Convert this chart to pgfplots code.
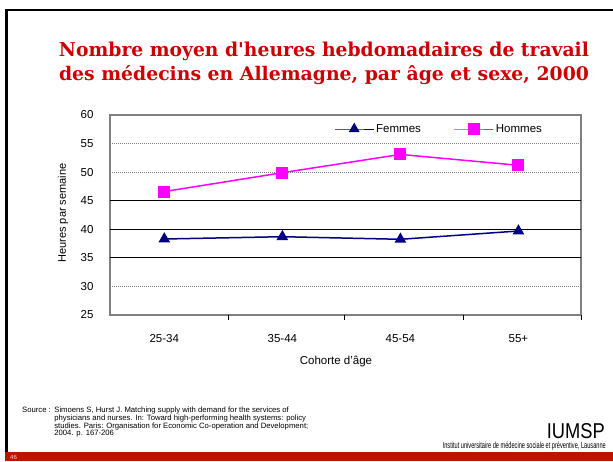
\documentclass[border=0pt]{standalone}
\usepackage{pgfplots}
\pgfplotsset{compat=1.18}
\usepackage{fontspec}
\setmainfont{Liberation Sans}
\newfontfamily\titlefont{DejaVu Serif}
\definecolor{navyF}{RGB}{0,0,128}
\definecolor{magH}{RGB}{255,0,255}
\definecolor{titlered}{RGB}{204,0,0}
\definecolor{barred}{RGB}{192,18,0}
\definecolor{framegray}{RGB}{128,128,128}
\begin{document}
\begin{tikzpicture}[x=1pt,y=1pt]
\useasboundingbox (0,0) rectangle (613,461);
\fill[white] (0,0) rectangle (613,461);
% slide frame
\fill[black] (5,9) rectangle (7.5,452);
\fill[black] (5,449.5) rectangle (613,452);
\fill[barred] (5,0) rectangle (613,9);
\node[anchor=west, text=red!15!white, inner sep=0] at (10,3.5) {\fontsize{6}{6}\selectfont 46};
% title
\node[anchor=base, inner sep=0, text=titlered] at (324,404) {\resizebox{530pt}{14.5pt}{\titlefont\bfseries Nombre moyen d'heures hebdomadaires de travail}};
\node[anchor=base, inner sep=0, text=titlered] at (324,380) {\resizebox{530pt}{15pt}{\titlefont\bfseries des médecins en Allemagne, par âge et sexe, 2000}};
% chart
\begin{axis}[
  at={(110pt,146pt)}, anchor=south west,
  width=471pt, height=200pt, scale only axis,
  xmin=-0.46, xmax=3.53, ymin=25, ymax=60,
  ytick={25,30,...,60},
  xtick={0,1,2,3}, xticklabels={25-34,35-44,45-54,55+},
  /pgf/number format/assume math mode=true,
  major tick length=0pt,
  tick pos=bottom,
  extra x ticks={0.54,1.53,2.53,3.53},
  extra x tick labels={},
  extra x tick style={major tick length=5pt, tick align=outside, major tick style={black, line width=0.9pt}},
  extra y ticks={35,40,45},
  extra y tick labels={},
  extra y tick style={grid=major, major grid style={black, solid, line width=0.9pt}},
  ymajorgrids,
  major grid style={framegray, line width=0.8pt, dash pattern=on 1pt off 1pt},
  axis line style={framegray, line width=1.2pt},
  tick label style={font=\fontsize{11.5}{12}\selectfont},
  yticklabel style={xshift=-13pt},
  xticklabel style={yshift=-16pt},
  legend style={at={(0.4756,0.93)}, anchor=west, draw=none, fill=none, inner sep=0pt,
    font=\fontsize{11.5}{12}\selectfont,
    /tikz/every even column/.append style={column sep=31pt}},
  legend columns=2,
  legend cell align=left,
  legend image code/.code={\draw[mark repeat=2,mark phase=2,#1,line width=1pt] plot coordinates {(0pt,0pt)(19.5pt,0pt)(39pt,0pt)};},
]
\addplot[navyF, line width=1.5pt, mark=triangle*, mark size=5.3pt, mark options={solid, fill=navyF}]
  coordinates {(0,38.3) (1,38.7) (2,38.25) (3,39.7)};
\addlegendentry{Femmes}
\addplot[magH, line width=1.5pt, mark=square*, mark size=5.2pt, mark options={solid, fill=magH}]
  coordinates {(0,46.6) (1,49.9) (2,53.1) (3,51.2)};
\addlegendentry{Hommes}
\end{axis}
% axis labels
\node[rotate=90, font=\fontsize{11}{12}\selectfont] at (63,248) {Heures par semaine};
\node[font=\fontsize{11.5}{12}\selectfont] at (336,99) {Cohorte d'âge};
% source
\node[anchor=north west, inner sep=0, font=\fontsize{7.7}{7.3}\selectfont] at (22,54)
  {\begin{tabular}{@{}l@{\hspace{3.5pt}}l@{}}
   Source : & Simoens S, Hurst J. Matching supply with demand for the services of\\
   & physicians and nurses. In: Toward high-performing health systems: policy\\
   & studies. Paris: Organisation for Economic Co-operation and Development;\\
   & 2004. p. 167-206
   \end{tabular}};
\node[anchor=base east, inner sep=0] at (605,23) {\resizebox{58pt}{15pt}{IUMSP}};
\node[anchor=base east, inner sep=0] at (606,13) {\resizebox{163pt}{6.5pt}{Institut universitaire de médecine sociale et préventive, Lausanne}};
\end{tikzpicture}
\end{document}
